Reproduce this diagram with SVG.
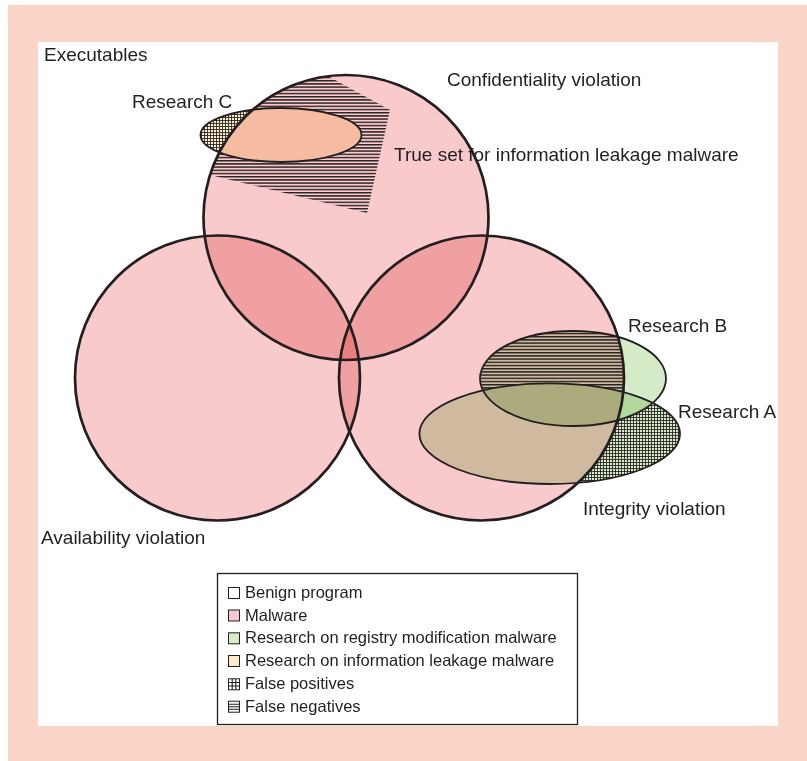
<svg xmlns="http://www.w3.org/2000/svg" width="807" height="761" viewBox="0 0 807 761">
<style>
text{font-family:"Liberation Sans",Arial,sans-serif;fill:#231f20}
.lbl{font-size:19px}
.leg{font-size:16.5px}
.fill{mix-blend-mode:multiply}
.ring{fill:none;stroke:#231f20;stroke-width:2.7}
.eline{fill:none;stroke:#231f20;stroke-width:1.8}
.sq{stroke:#231f20;stroke-width:1}
</style>
<defs>
<pattern id="hl" width="6" height="3.2" patternUnits="userSpaceOnUse"><rect x="0" y="0" width="6" height="1.4" fill="#231f20"/></pattern>
<pattern id="grid" width="3" height="3" patternUnits="userSpaceOnUse"><path d="M0 0.5H3M0.5 0V3" stroke="#231f20" stroke-width="0.85" fill="none"/></pattern>
<clipPath id="clipConf"><circle cx="346" cy="217.5" r="142.5"/></clipPath>
<clipPath id="clipInteg"><circle cx="481.5" cy="378" r="142.5"/></clipPath>
<mask id="notC" maskUnits="userSpaceOnUse" x="0" y="0" width="807" height="761"><rect width="807" height="761" fill="#fff"/><ellipse cx="281" cy="135" rx="80.5" ry="27" fill="#000"/></mask>
<mask id="notConf" maskUnits="userSpaceOnUse" x="0" y="0" width="807" height="761"><rect width="807" height="761" fill="#fff"/><circle cx="346" cy="217.5" r="142.5" fill="#000"/></mask>
<mask id="notA" maskUnits="userSpaceOnUse" x="0" y="0" width="807" height="761"><rect width="807" height="761" fill="#fff"/><ellipse cx="549.7" cy="433.7" rx="130.3" ry="50.3" fill="#000"/></mask>
<mask id="notIntegB" maskUnits="userSpaceOnUse" x="0" y="0" width="807" height="761"><rect width="807" height="761" fill="#fff"/><circle cx="481.5" cy="378" r="142.5" fill="#000"/><ellipse cx="573" cy="378.5" rx="93" ry="47.5" fill="#000"/></mask>
</defs>

<rect x="8" y="5" width="799" height="756" fill="#f9d4c7"/>
<rect x="38" y="42" width="740" height="684" fill="#ffffff"/>

<g id="confidentiality">
<circle class="fill" cx="346" cy="217.5" r="142.5" fill="#f8cacb"/>
</g>
<g id="availability">
<circle class="fill" cx="217.5" cy="378" r="142.5" fill="#f8cacb"/>
</g>
<g id="integrity">
<circle class="fill" cx="481.5" cy="378" r="142.5" fill="#f8cacb"/>
</g>
<g id="researchC">
<ellipse class="fill" cx="281" cy="135" rx="80.5" ry="27" fill="#fdeeca"/>
</g>
<g id="researchB">
<ellipse class="fill" cx="573" cy="378.5" rx="93" ry="47.5" fill="#d5ebc8"/>
</g>
<g id="researchA">
<ellipse class="fill" cx="549.7" cy="433.7" rx="130.3" ry="50.3" fill="#d5ebc8"/>
</g>

<g id="hatching">
<g clip-path="url(#clipConf)"><path d="M280 50 L390 110 L367 213 L190 170 L190 50 Z" fill="url(#hl)" mask="url(#notC)"/></g>
<ellipse cx="281" cy="135" rx="80.5" ry="27" fill="url(#grid)" mask="url(#notConf)"/>
<g clip-path="url(#clipInteg)"><ellipse cx="573" cy="378.5" rx="93" ry="47.5" fill="url(#hl)" mask="url(#notA)"/></g>
<ellipse cx="549.7" cy="433.7" rx="130.3" ry="50.3" fill="url(#grid)" mask="url(#notIntegB)"/>
</g>

<g id="outlines">
<circle class="ring" cx="346" cy="217.5" r="142.5"/>
<circle class="ring" cx="217.5" cy="378" r="142.5"/>
<circle class="ring" cx="481.5" cy="378" r="142.5"/>
<ellipse class="eline" cx="281" cy="135" rx="80.5" ry="27"/>
<ellipse class="eline" cx="573" cy="378.5" rx="93" ry="47.5"/>
<ellipse class="eline" cx="549.7" cy="433.7" rx="130.3" ry="50.3"/>
</g>

<g id="labels">
<text class="lbl" x="44" y="61">Executables</text>
<text class="lbl" x="132" y="108">Research C</text>
<text class="lbl" x="447" y="86">Confidentiality violation</text>
<text class="lbl" x="394" y="161">True set for information leakage malware</text>
<text class="lbl" x="628" y="332">Research B</text>
<text class="lbl" x="678" y="418">Research A</text>
<text class="lbl" x="583" y="515">Integrity violation</text>
<text class="lbl" x="41" y="544">Availability violation</text>
</g>

<g id="legend">
<rect x="217.5" y="573.5" width="360" height="151" fill="#fff" stroke="#231f20" stroke-width="1.3"/>
<rect class="sq" x="228.5" y="587.5" width="11" height="11" fill="#fff"/>
<text class="leg" x="245" y="598">Benign program</text>
<rect class="sq" x="228.5" y="610" width="11" height="11" fill="#f8c9ca"/>
<text class="leg" x="245" y="620.7">Malware</text>
<rect class="sq" x="228.5" y="632.8" width="11" height="11" fill="#d6ebc8"/>
<text class="leg" x="245" y="643.3">Research on registry modification malware</text>
<rect class="sq" x="228.5" y="655.5" width="11" height="11" fill="#fdecc9"/>
<text class="leg" x="245" y="666">Research on information leakage malware</text>
<rect class="sq" x="228.5" y="678.8" width="11" height="11" fill="#fff"/>
<path d="M228.5 682.5H239.5M228.5 686H239.5M232.2 678.8V689.8M235.8 678.8V689.8" stroke="#231f20" stroke-width="1.1" fill="none"/>
<rect class="sq" x="228.5" y="701.2" width="11" height="11" fill="#fff"/>
<path d="M228.5 704.2H239.5M228.5 706.7H239.5M228.5 709.2H239.5" stroke="#231f20" stroke-width="1.1" fill="none"/>
<text class="leg" x="245" y="689.3">False positives</text>
<text class="leg" x="245" y="711.7">False negatives</text>
</g>
</svg>
